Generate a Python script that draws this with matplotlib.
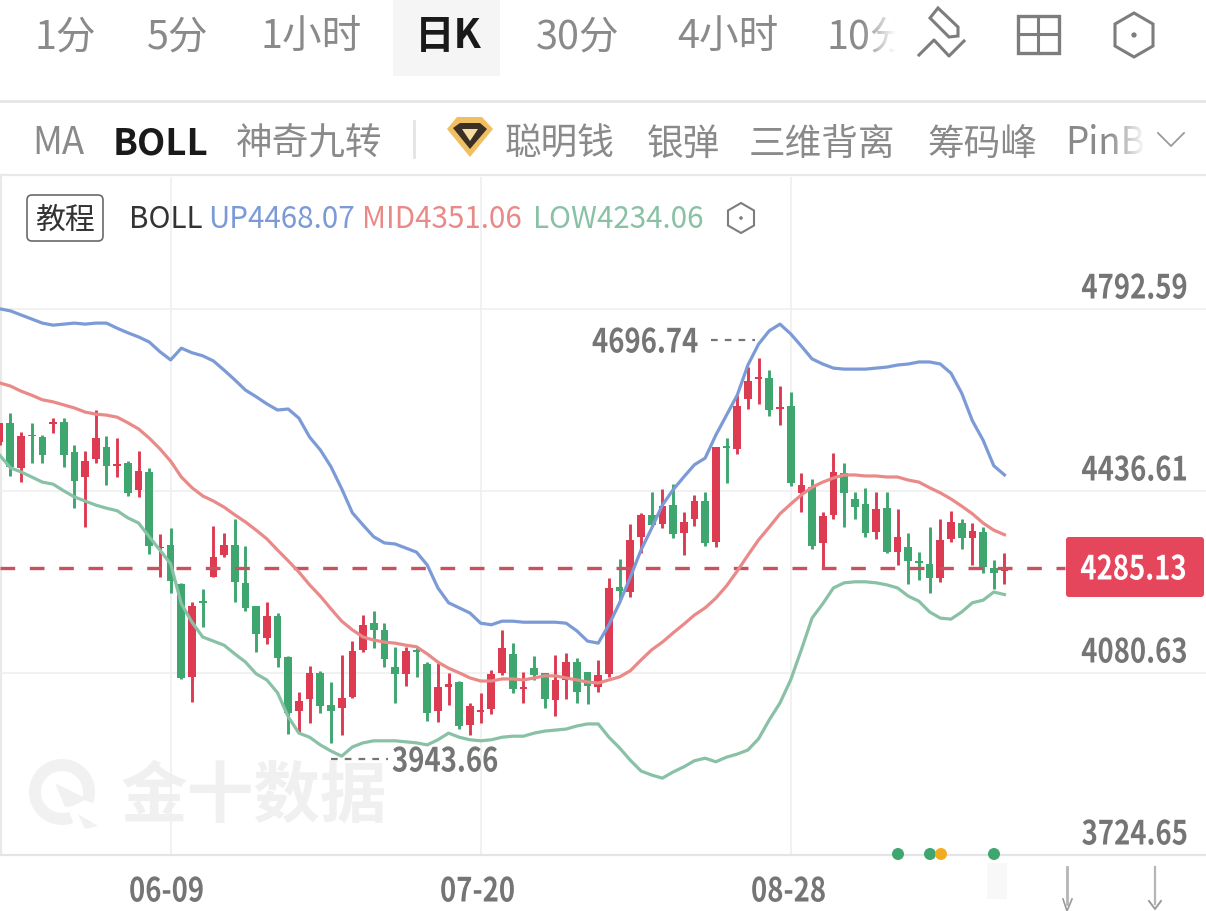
import numpy as np
import matplotlib
matplotlib.use("Agg")
import matplotlib.pyplot as plt
import matplotlib.patheffects as pe
from matplotlib.patches import Rectangle, FancyBboxPatch, Polygon, Circle, Wedge
from matplotlib.colors import LinearSegmentedColormap
from matplotlib.transforms import Affine2D

# ---------- data ----------
highs = [4570,4589,4552,4570,4546,4579,4579,4527,4515,4595,4544,4540,4495,4515,4482,4353,4364,4257,4220,4245,
         4368,4355,4382,4329,4212,4220,4198,4114,4043,4094,4085,4063,4116,4143,4194,4202,4178,4132,4132,4133,
         4102,4100,4081,4065,4022,4041,4086,4165,4139,4083,4114,4081,4116,4120,4110,4083,4106,4266,4304,4372,
         4394,4435,4441,4450,4396,4429,4435,4523,4540,4624,4679,4696.74,4673,4642,4630,4472,4460,4396,4511,4491,
         4435,4443,4435,4435,4401,4355,4317,4366,4382,4398,4382,4374,4366,4302,4315]
lows = [4527,4466,4454,4491,4491,4550,4484,4403,4366,4491,4448,4464,4427,4425,4313,4268,4237,4069,4024,4171,
        4268,4308,4220,4202,4122,4137,4092,3961,3965,3983,4002,3943.66,3959,4032,4122,4130,4092,4022,4055,4073,
        3987,3985,4018,3971,3959,3983,4000,4077,4041,4022,4067,4012,3996,4030,4022,4020,4043,4073,4223,4229,
        4315,4370,4364,4345,4311,4368,4329,4327,4452,4509,4597,4607,4583,4566,4446,4396,4323,4286,4382,4366,
        4382,4347,4343,4315,4292,4255,4263,4237,4259,4337,4323,4292,4276,4245,4255]
opens = [4532,4570,4482,4546,4542,4568,4572,4513,4464,4499,4523,4486,4491,4439,4474,4325,4331,4255,4073,4220,
         4268,4311,4331,4257,4212,4149,4192,4112,4006,4030,4081,4018,4012,4034,4126,4178,4165,4092,4079,4126,
         4098,4006,4053,4063,3979,4004,4010,4081,4118,4049,4090,4081,4028,4067,4102,4083,4053,4079,4249,4239,
         4347,4390,4372,4409,4355,4382,4417,4337,4523,4519,4617,4656,4658,4597,4603,4433,4444,4335,4390,4472,
         4421,4411,4357,4403,4317,4327,4300,4294,4266,4343,4374,4345,4357,4286,4280]
closes = [4570,4484,4544,4544,4507,4570,4507,4456,4495,4540,4486,4488,4433,4476,4329,4327,4261,4071,4212,4218,
          4308,4331,4259,4208,4157,4192,4110,4002,4026,4081,4016,4006,4032,4124,4175,4165,4108,4079,4124,4122,
          4002,4053,4059,3977,4016,4008,4079,4130,4049,4053,4077,4030,4067,4102,4043,4055,4077,4247,4241,4341,
          4390,4370,4407,4353,4376,4417,4335,4523,4521,4603,4652,4658,4595,4601,4452,4448,4329,4388,4474,4433,
          4405,4355,4401,4317,4347,4300,4296,4266,4341,4376,4345,4358,4288,4276,4285.13]
boll_up = [4793,4789,4781,4773,4765,4761,4763,4765,4763,4765,4765,4755,4746,4738,4728,4709,4693,4716,4707,4701,
           4691,4673,4654,4634,4621,4607,4595,4597,4579,4542,4517,4484,4441,4394,4370,4347,4335,4333,4325,4317,
           4292,4247,4218,4208,4198,4178,4175,4182,4182,4180,4180,4180,4180,4178,4163,4143,4139,4175,4218,4268,
           4321,4364,4409,4439,4464,4488,4501,4546,4585,4624,4683,4724,4750,4763,4744,4720,4695,4685,4677,4675,
           4675,4675,4677,4679,4683,4685,4689,4689,4685,4667,4628,4574,4536,4486,4468.07]
boll_mid = [4648,4642,4632,4624,4615,4611,4605,4599,4591,4587,4585,4581,4570,4558,4540,4519,4495,4464,4443,4427,
            4417,4405,4390,4376,4360,4343,4321,4300,4278,4253,4231,4206,4182,4165,4151,4145,4141,4139,4135,4132,
            4118,4102,4090,4081,4071,4065,4065,4069,4069,4067,4071,4075,4075,4071,4067,4063,4061,4067,4073,4085,
            4106,4126,4141,4159,4176,4194,4208,4227,4251,4280,4311,4341,4366,4392,4411,4429,4444,4454,4462,4468,
            4468,4466,4466,4464,4464,4458,4454,4443,4433,4421,4407,4392,4374,4360,4351.06]
boll_low = [4507,4482,4474,4464,4454,4450,4437,4425,4417,4409,4403,4398,4384,4374,4347,4321,4294,4216,4180,4151,
            4143,4135,4118,4102,4079,4067,4042,3995,3963,3955,3940,3928,3918,3936,3944,3948,3948,3948,3946,3944,
            3940,3950,3963,3955,3950,3948,3950,3955,3957,3957,3963,3967,3969,3971,3977,3981,3981,3955,3934,3910,
            3889,3881,3875,3887,3897,3909,3914,3907,3916,3922,3930,3952,3989,4022,4067,4126,4188,4216,4247,4257,
            4259,4259,4257,4253,4247,4231,4221,4200,4188,4186,4200,4218,4223,4239,4234.06]
price_ticks = [4792.59, 4436.61, 4080.63, 3724.65]
date_ticks = ["06-09", "07-20", "08-28"]
date_index = [16, 45, 74]
last_price = 4285.13
high_label = "4696.74"
low_label = "3943.66"
tabs_top = ["1分", "5分", "1小时", "日K", "30分", "4小时", "10分"]
tabs_sub = ["MA", "BOLL", "神奇九转", "聪明钱", "银弹", "三维背离", "筹码峰", "PinB"]

# ---------- style ----------
RED, GREEN = "#dc3b52", "#3fa670"
C_UP, C_MID, C_LOW = "#7b9ad6", "#ea8a88", "#88c1a5"
GRID = "#efefef"
GRAY = "#757575"
TAB = "#8a8a8a"
CJK = ["Noto Sans CJK SC", "DejaVu Sans"]
W, H = 1206, 912


class Squeeze(pe.AbstractPathEffect):
    """Draw a text narrower, anchored at one end (the reference uses a condensed face)."""

    def __init__(self, sx, right=False):
        super().__init__()
        self.sx = sx
        self.right = right

    def draw_path(self, renderer, gc, tpath, affine, rgbFace=None):
        x0 = tpath.get_extents(affine).x1 if self.right else affine.get_matrix()[0, 2]
        squeezed = affine + Affine2D().translate(-x0, 0).scale(self.sx, 1).translate(x0, 0)
        renderer.draw_path(gc, tpath, squeezed, rgbFace)


fig = plt.figure(figsize=(W / 100, H / 100), dpi=100, facecolor="white")

# background layer (pixel coordinates)
bg = fig.add_axes([0, 0, 1, 1], zorder=0)
bg.set_xlim(0, W); bg.set_ylim(H, 0); bg.axis("off")
bg.add_patch(Rectangle((393, 0), 107, 77, color="#f5f5f5", lw=0))
bg.plot([0, W], [102, 102], color="#e6e6e6", lw=2)
bg.plot([0, W], [176, 176], color="#e9e9e9", lw=1.6)
bg.plot([1, 1], [176, 855], color="#e9e9e9", lw=1.6)
bg.plot([414, 414], [122, 158], color="#e4e4e4", lw=2)
WM = "#f1f1f1"
bg.add_patch(Wedge((62, 793), 33, 70, 380, width=12, color=WM, lw=0))
bg.add_patch(Polygon([[55, 784], [87, 800], [73, 807], [65, 808]], color=WM, lw=0))
bg.add_patch(Polygon([[78, 815], [98, 827], [85, 830]], color=WM, lw=0))
bg.text(254, 797, "金十数据", family=CJK, fontsize=48, fontweight="bold", color="#f0f0f0",
        ha="center", va="center")

# chart
top_px, bot_px = 178, 856
px_per_price = 182 / (price_ticks[0] - price_ticks[1])
ymax = price_ticks[0] + (310 - top_px) / px_per_price
ymin = price_ticks[3]
ax = fig.add_axes([0, 1 - bot_px / H, 1, (bot_px - top_px) / H], zorder=1)
ax.patch.set_alpha(0)
ax.set_ylim(ymin, ymax)
step = 10.69
ax.set_xlim(0.4 / step, (W + 0.4) / step)
for s in ax.spines.values():
    s.set_visible(False)
ax.tick_params(left=False, bottom=False, labelleft=False, labelbottom=False)
ax.set_yticks(price_ticks); ax.set_xticks(date_index)
ax.grid(True, color=GRID, lw=1.2)
ax.axhline(price_ticks[3], color="#e4e4e4", lw=1.6, clip_on=False)
ax.set_axisbelow(True)

o, c, hi, lo = map(np.array, (opens, closes, highs, lows))
x = np.arange(len(o))
colors = np.where(c >= o, RED, GREEN)
ax.vlines(x, lo, hi, colors=colors, lw=2.1, zorder=2)
ax.bar(x, np.maximum(np.abs(c - o), 3), bottom=np.minimum(o, c), width=0.72, color=colors, lw=0, zorder=2.1)
ax.plot([0.04, 99.7], [last_price, last_price], color="#c9505f", lw=2.4, dashes=(4.4, 4.4), zorder=3)
ax.plot(x, boll_up, color=C_UP, lw=2.3, zorder=4)
ax.plot(x, boll_mid, color=C_MID, lw=2.3, zorder=4)
ax.plot(x, boll_low, color=C_LOW, lw=2.3, zorder=4)

# foreground layer (pixel coordinates)
ui = fig.add_axes([0, 0, 1, 1], zorder=2)
ui.patch.set_alpha(0)
ui.set_xlim(0, W); ui.set_ylim(H, 0); ui.axis("off")


def T(px, py, s, **kw):
    kw.setdefault("family", CJK)
    kw.setdefault("ha", "center")
    kw.setdefault("va", "center")
    ui.text(px, py, s, **kw)


def N(px, py, s, color=GRAY, zorder=3, right=False):
    """Condensed numeric label; px is its left edge, or its right edge when right=True."""
    t = ui.text(px, py, s, family=CJK, fontsize=24, fontweight="bold", color=color,
                ha="right" if right else "left", va="center", zorder=zorder)
    t.set_path_effects([Squeeze(0.825, right)])


for cx, s in zip([65, 178, 311, 448, 578, 728, 868], tabs_top):
    sel = s == "日K"
    T(cx, 37, s, fontsize=28.5, color="#1a1a1a" if sel else TAB, fontweight="bold" if sel else "normal")
for cx, s in zip([58, 161, 309, 560, 683, 822, 982, 1105], tabs_sub):
    sel = s == "BOLL"
    T(cx, 144, s, fontsize=26.4, color="#1a1a1a" if sel else TAB, fontweight="bold" if sel else "normal")

# fades of clipped tabs
fade = LinearSegmentedColormap.from_list("f", [(1, 1, 1, 0), (1, 1, 1, 1)])
for x0, x1, y0, y1 in [(862, 896, 8, 66), (1108, 1146, 115, 170)]:
    ui.imshow(np.linspace(0, 1, 64)[None, :], cmap=fade, extent=(x0, x1, y1, y0), aspect="auto", zorder=5)
ui.add_patch(Rectangle((896, 8), 20, 58, color="white", lw=0, zorder=5))
ui.add_patch(Rectangle((1146, 115), 10, 55, color="white", lw=0, zorder=5))
ui.set_xlim(0, W); ui.set_ylim(H, 0)

# top-right icons
ic = "#7d7d7d"
ui.add_patch(Polygon([[938, 9], [930, 19], [949, 38], [958, 37], [958, 28]], fill=False, ec=ic, lw=2.2, zorder=6))
ui.plot([919, 934, 949, 964], [56, 41, 57, 42], color=ic, lw=2.2, zorder=6)
ui.add_patch(Rectangle((1018, 17), 41, 37, fill=False, ec=ic, lw=2.4, zorder=6))
ui.plot([1038, 1038], [17, 54], color=ic, lw=2.2, zorder=6)
ui.plot([1018, 1059], [35, 35], color=ic, lw=2.2, zorder=6)


def hexagon(cx, cy, w, h, lw):
    pts = [[cx, cy - h / 2], [cx + w / 2, cy - h / 4], [cx + w / 2, cy + h / 4],
           [cx, cy + h / 2], [cx - w / 2, cy + h / 4], [cx - w / 2, cy - h / 4]]
    ui.add_patch(Polygon(pts, fill=False, ec=ic, lw=lw, zorder=6))
    ui.add_patch(Circle((cx, cy), lw * 1.2, color=ic, lw=0, zorder=6))


hexagon(1134, 36, 38, 44, 2.2)
hexagon(741, 219, 26, 30, 1.5)

# gem icon
ui.add_patch(Polygon([[457, 118], [482, 118], [493, 130], [470, 158], [447, 130]], color="#f0bf62", lw=0, zorder=6))
ui.add_patch(Polygon([[460, 124], [480, 124], [487, 130], [470, 150], [453, 129]], color="#3a3026", lw=0, zorder=6))
ui.add_patch(Polygon([[462, 130], [478, 130], [470, 142]], color="#f7dca0", lw=0, zorder=6))
ui.plot([1158, 1171, 1184], [134, 147, 134], color="#9a9a9a", lw=1.3, zorder=6)

# legend row
ui.add_patch(FancyBboxPatch((27, 196), 76, 46, boxstyle="round,pad=0,rounding_size=5",
                            fill=False, ec="#6a6a6a", lw=1.2))
T(65, 220, "教程", fontsize=21.5, color="#333333")
T(129, 220, "BOLL", ha="left", fontsize=21.3, color="#333333")
T(208, 220, "UP4468.07", ha="left", fontsize=21.3, color=C_UP)
T(362, 220, "MID4351.06", ha="left", fontsize=21.3, color=C_MID)
T(533, 220, "LOW4234.06", ha="left", fontsize=21.3, color=C_LOW)

# axis labels
for p in price_ticks:
    py = 309 + (price_ticks[0] - p) * px_per_price
    N(1188, py - 19, f"{p:.2f}", right=True)
for cx, s in zip([129, 440, 751], date_ticks):
    N(cx, 893, s)

# price tag
ui.add_patch(FancyBboxPatch((1066, 538), 138, 60, boxstyle="round,pad=0,rounding_size=3",
                            fc="#e5465c", ec="none", zorder=6))
N(1187, 571, f"{last_price:.2f}", color="white", zorder=7, right=True)

# high / low annotations
N(592, 344, high_label)
ui.plot([711, 755], [341, 341], color=GRAY, lw=1.6, dashes=(3, 3.2))
N(392, 763, low_label)
ui.plot([331, 388], [760, 760], color=GRAY, lw=1.6, dashes=(3, 3.2))

# event dots
for cx, col in zip([898, 930, 941, 994], [GREEN, GREEN, "#f2ac1f", GREEN]):
    ui.add_patch(Circle((cx, 855), 6, color=col, lw=0, zorder=6))

# bottom-right traces
ui.add_patch(Rectangle((987, 864), 20, 36, color="#f8f8f8", lw=0))
ui.plot([1067, 1067], [868, 905], color="#b5b5b5", lw=2)
ui.plot([1063, 1067, 1072], [900, 912, 900], color="#9a9a9a", lw=1.2)
ui.plot([1155, 1155], [868, 905], color="#b5b5b5", lw=1.6)
ui.plot([1149, 1155, 1161], [902, 910, 902], color="#9a9a9a", lw=1.4)

fig.savefig("out.png", dpi=100, facecolor="white")
